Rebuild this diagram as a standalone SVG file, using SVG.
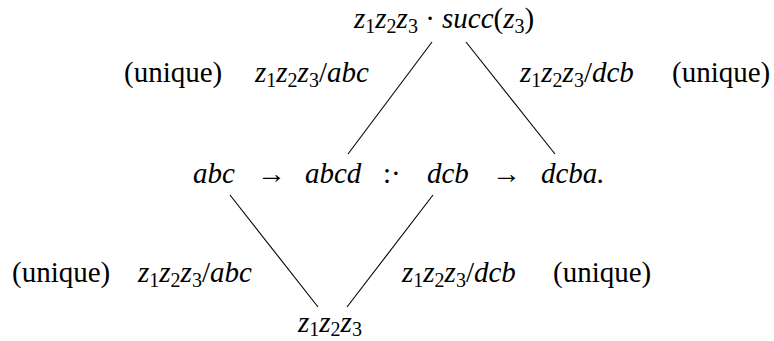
<svg xmlns="http://www.w3.org/2000/svg" width="774" height="341" viewBox="0 0 774 341">
<style>
.e line{stroke:#000;stroke-width:1.1}
</style>
<rect width="774" height="341" fill="#fff"/>
<g id="connectors" class="e">
<line x1="432" y1="42" x2="348" y2="154"/>
<line x1="466" y1="42" x2="555" y2="154"/>
<line x1="230" y1="195" x2="318" y2="307"/>
<line x1="433" y1="195" x2="347" y2="307"/>
</g>
<g id="top">
<text x="354" y="28" font-family="Liberation Serif" font-size="29"><tspan font-family="Liberation Serif" font-style="italic">z</tspan><tspan font-family="Liberation Serif" font-size="20" dy="5">1</tspan><tspan font-family="Liberation Serif" font-style="italic" dy="-5">z</tspan><tspan font-family="Liberation Serif" font-size="20" dy="5">2</tspan><tspan font-family="Liberation Serif" font-style="italic" dy="-5">z</tspan><tspan font-family="Liberation Serif" font-size="20" dy="5">3</tspan><tspan font-family="Liberation Serif" dy="-5"> · </tspan><tspan font-family="Liberation Serif" font-style="italic">succ</tspan><tspan font-family="Liberation Serif">(</tspan><tspan font-family="Liberation Serif" font-style="italic">z</tspan><tspan font-family="Liberation Serif" font-size="20" dy="5">3</tspan><tspan font-family="Liberation Serif" dy="-5">)</tspan></text>
</g>
<g id="label-top-left">
<text x="124" y="82" font-family="Liberation Serif" font-size="29">(unique)</text>
<text x="255" y="82" font-family="Liberation Serif" font-size="29"><tspan font-family="Liberation Serif" font-style="italic">z</tspan><tspan font-family="Liberation Serif" font-size="20" dy="5">1</tspan><tspan font-family="Liberation Serif" font-style="italic" dy="-5">z</tspan><tspan font-family="Liberation Serif" font-size="20" dy="5">2</tspan><tspan font-family="Liberation Serif" font-style="italic" dy="-5">z</tspan><tspan font-family="Liberation Serif" font-size="20" dy="5">3</tspan><tspan font-family="Liberation Serif" dy="-5">/</tspan><tspan font-family="Liberation Serif" font-style="italic">abc</tspan></text>
</g>
<g id="label-top-right">
<text x="520" y="82" font-family="Liberation Serif" font-size="29"><tspan font-family="Liberation Serif" font-style="italic">z</tspan><tspan font-family="Liberation Serif" font-size="20" dy="5">1</tspan><tspan font-family="Liberation Serif" font-style="italic" dy="-5">z</tspan><tspan font-family="Liberation Serif" font-size="20" dy="5">2</tspan><tspan font-family="Liberation Serif" font-style="italic" dy="-5">z</tspan><tspan font-family="Liberation Serif" font-size="20" dy="5">3</tspan><tspan font-family="Liberation Serif" dy="-5">/</tspan><tspan font-family="Liberation Serif" font-style="italic">dcb</tspan></text>
<text x="672" y="82" font-family="Liberation Serif" font-size="29">(unique)</text>
</g>
<g id="middle">
<text x="193" y="183" font-family="Liberation Serif" font-size="29" font-style="italic">abc</text>
<text x="257" y="183" font-family="Liberation Serif" font-size="29">→</text>
<text x="305" y="183" font-family="Liberation Serif" font-size="29" font-style="italic">abcd</text>
<text x="383" y="183" font-family="Liberation Serif" font-size="29">:·</text>
<text x="427" y="183" font-family="Liberation Serif" font-size="29" font-style="italic">dcb</text>
<text x="492" y="183" font-family="Liberation Serif" font-size="29">→</text>
<text x="541" y="183" font-family="Liberation Serif" font-size="29" font-style="italic">dcba.</text>
</g>
<g id="label-bottom-left">
<text x="12" y="282" font-family="Liberation Serif" font-size="29">(unique)</text>
<text x="138" y="282" font-family="Liberation Serif" font-size="29"><tspan font-family="Liberation Serif" font-style="italic">z</tspan><tspan font-family="Liberation Serif" font-size="20" dy="5">1</tspan><tspan font-family="Liberation Serif" font-style="italic" dy="-5">z</tspan><tspan font-family="Liberation Serif" font-size="20" dy="5">2</tspan><tspan font-family="Liberation Serif" font-style="italic" dy="-5">z</tspan><tspan font-family="Liberation Serif" font-size="20" dy="5">3</tspan><tspan font-family="Liberation Serif" dy="-5">/</tspan><tspan font-family="Liberation Serif" font-style="italic">abc</tspan></text>
</g>
<g id="label-bottom-right">
<text x="402" y="282" font-family="Liberation Serif" font-size="29"><tspan font-family="Liberation Serif" font-style="italic">z</tspan><tspan font-family="Liberation Serif" font-size="20" dy="5">1</tspan><tspan font-family="Liberation Serif" font-style="italic" dy="-5">z</tspan><tspan font-family="Liberation Serif" font-size="20" dy="5">2</tspan><tspan font-family="Liberation Serif" font-style="italic" dy="-5">z</tspan><tspan font-family="Liberation Serif" font-size="20" dy="5">3</tspan><tspan font-family="Liberation Serif" dy="-5">/</tspan><tspan font-family="Liberation Serif" font-style="italic">dcb</tspan></text>
<text x="553" y="282" font-family="Liberation Serif" font-size="29">(unique)</text>
</g>
<g id="bottom">
<text x="298" y="332" font-family="Liberation Serif" font-size="29"><tspan font-family="Liberation Serif" font-style="italic">z</tspan><tspan font-family="Liberation Serif" font-size="20" dy="4">1</tspan><tspan font-family="Liberation Serif" font-style="italic" dy="-4">z</tspan><tspan font-family="Liberation Serif" font-size="20" dy="4">2</tspan><tspan font-family="Liberation Serif" font-style="italic" dy="-4">z</tspan><tspan font-family="Liberation Serif" font-size="20" dy="4">3</tspan></text>
</g>
</svg>
